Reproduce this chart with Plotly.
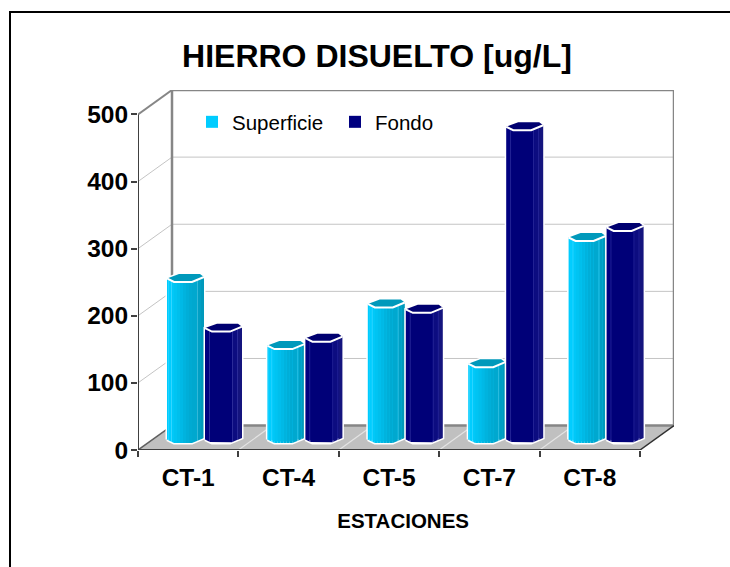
import plotly.graph_objects as go

categories = ["CT-1", "CT-4", "CT-5", "CT-7", "CT-8"]
superficie = [240, 140, 202, 113, 301]
fondo = [166, 151, 194, 466, 316]
y_ticks = [0, 100, 200, 300, 400, 500]

# scale of the plot: pixels per data unit, used only for the pseudo-3D styling
PXX = 100.4
PXY = 0.674
DX = 34 / PXX
DY = 24.5 / PXY
ux = lambda p: p / PXX
uy = lambda p: p / PXY

BASE = uy(7)
OFFS = {"c": 29, "n": 67}
OUTLINE = [(0, 3.5), (7, 0), (25, 0), (37, 5), (33, 8), (12, 8), (0, 3.5)]


def front(px):
    pts = [(0, 3.5), (7, 0), (25, 0), (37, 5)]
    for (a, b), (c, d) in zip(pts, pts[1:]):
        if a <= px <= c:
            return b + (d - b) * (px - a) / (c - a)
    return 0


CYAN_STRIPS = [
    (0, 1.5, "#00ccff"), (1.5, 4, "#00cdff"), (4, 5, "#33d6ff"), (5, 7, "#00c8f8"),
    (7, 10, "#00c4f2"), (10, 13, "#00bfec"), (13, 16, "#00b9e6"), (16, 19, "#00b3de"),
    (19, 22, "#00aed8"), (22, 25, "#00aad2"), (25, 30, "#00a8cf"), (30, 31, "#33b8d8"),
    (31, 34, "#009fc4"), (34, 37, "#0099bb"),
]
NAVY_STRIPS = [
    (0, 4, "#000080"), (4, 5, "#2a2a98"), (5, 27, "#000078"), (27, 28, "#2a2a98"),
    (28, 32, "#0c0c80"), (32, 33, "#2a2a98"), (33, 37, "#14147e"),
]


def xs(i, off, px):
    return i + ux(off + px)


def prism(values, off, strips, top_color, name, color):
    traces = []
    # real bar, the body of the column
    traces.append(go.Bar(
        x=[i + ux(off + 18.5) for i in range(5)], y=[v - uy(5) for v in values],
        base=[BASE + uy(5)] * 5, width=ux(37), name=name,
        marker=dict(color=color, line=dict(color="white", width=0)),
        hoverinfo="skip", customdata=categories,
    ))
    # white halo silhouette
    hx, hy = [], []
    for i, v in enumerate(values):
        sil = [(0, 3.5, 0), (7, 0, 0), (25, 0, 0), (37, 5, 0), (37, 5, 1), (33, 8, 1),
               (12, 8, 1), (0, 3.5, 1), (0, 3.5, 0)]
        hx += [xs(i, off, a) for a, _, _ in sil] + [None]
        hy += [BASE + uy(b) + (v if t else 0) for _, b, t in sil] + [None]
    traces.append(go.Scatter(x=hx, y=hy, mode="lines", fill="toself", fillcolor=color,
                             line=dict(color="white", width=3), showlegend=False, hoverinfo="skip"))
    # shaded vertical strips
    for a, b, col in strips:
        px, py = [], []
        for i, v in enumerate(values):
            fa, fb = front(a), front(b)
            px += [xs(i, off, a), xs(i, off, b), xs(i, off, b), xs(i, off, a), xs(i, off, a), None]
            py += [BASE + uy(fa), BASE + uy(fb), BASE + v + uy(fb), BASE + v + uy(fa), BASE + uy(fa), None]
        traces.append(go.Scatter(x=px, y=py, mode="lines", fill="toself", fillcolor=col,
                                 line=dict(width=0, color=col), showlegend=False, hoverinfo="skip"))
    # top cap
    tx, ty, ex, ey = [], [], [], []
    for i, v in enumerate(values):
        tx += [xs(i, off, a) for a, _ in OUTLINE] + [None]
        ty += [BASE + v + uy(b) for _, b in OUTLINE] + [None]
        ex += [xs(i, off, a) for a, _ in OUTLINE[:4]] + [None]
        ey += [BASE + v + uy(b) for _, b in OUTLINE[:4]] + [None]
    traces.append(go.Scatter(x=tx, y=ty, mode="lines", fill="toself", fillcolor=top_color,
                             line=dict(width=0, color=top_color), showlegend=False, hoverinfo="skip"))
    traces.append(go.Scatter(x=ex, y=ey, mode="lines", line=dict(color="white", width=2),
                             showlegend=False, hoverinfo="skip"))
    return traces


fig = go.Figure()
for t in prism(superficie, OFFS["c"], CYAN_STRIPS, "#0099bb", "Superficie", "#00ccff"):
    fig.add_trace(t)
for t in prism(fondo, OFFS["n"], NAVY_STRIPS, "#000070", "Fondo", "#000080"):
    fig.add_trace(t)

shapes = []
n = len(categories)
GRID = "#c4c4c4"
AX = "#404040"
WALL = "#868686"


def line(x0, y0, x1, y1, color, width, layer="below"):
    shapes.append(dict(type="line", x0=x0, y0=y0, x1=x1, y1=y1, xref="x", yref="y",
                       line=dict(color=color, width=width), layer=layer))


shapes.append(dict(type="path", xref="x", yref="y", layer="below",
                   path=f"M0,0 L{n},0 L{n+DX},{DY} L{DX},{DY} Z",
                   fillcolor="#c0c0c0", line=dict(width=0)))
for v in y_ticks[1:-1]:
    line(0, v, DX, v + DY, GRID, 1)
    line(DX, v + DY, n + DX, v + DY, GRID, 1)
for i in range(1, n):
    line(i, 0, i + DX, DY, "#e4e4e4", 1.2)
line(DX, DY, n + DX, DY, WALL, 2.5)
line(DX, DY, DX, 500 + DY, WALL, 2.5)
line(DX, 500 + DY, n + DX, 500 + DY, WALL, 2.5)
line(n + DX, DY, n + DX, 500 + DY, WALL, 2.5)
line(0, 500, DX, 500 + DY, WALL, 2)
line(0, 0, DX, DY, "#606060", 1.5)
line(n, 0, n + DX, DY, "#303030", 1.5)
line(0, 0, 0, 500, AX, 2)
line(0, 0, n, 0, AX, 2)
# outer frame of the page: its right and bottom edges fall outside the picture
shapes.append(dict(type="rect", xref="paper", yref="paper", layer="below",
                   x0=(10 - 138) / 536, x1=(760 - 138) / 536,
                   y0=(450 - 590) / 360, y1=(450 - 12) / 360,
                   line=dict(color="black", width=2)))

fig.update_layout(
    width=730, height=567, autosize=False,
    margin=dict(l=138, r=56, t=90, b=117),
    paper_bgcolor="white", plot_bgcolor="white",
    font=dict(family="Liberation Sans", color="black"),
    barmode="overlay", shapes=shapes,
    title=dict(text="<b>HIERRO DISUELTO [ug/L]</b>", font=dict(size=32),
               x=377 / 730, xanchor="center", y=1 - 56 / 567, yanchor="middle"),
    xaxis=dict(range=[0, n + DX], tickmode="array", tickvals=[i + 0.5 for i in range(n)],
               ticktext=[f"<b>{c}</b>" for c in categories], tickfont=dict(size=24.5),
               showgrid=False, zeroline=False, showline=False, ticks="", ticklen=0, fixedrange=True,
               ticklabelstandoff=10,
               minor=dict(tickmode="array", tickvals=list(range(n + 1)), ticks="outside",
                          ticklen=6, tickwidth=1.5, tickcolor=AX, showgrid=False),
               title=dict(text="<b>ESTACIONES</b>&nbsp;", font=dict(size=20.5), standoff=24)),
    yaxis=dict(range=[0, 500 + DY], tickmode="array", tickvals=y_ticks,
               ticktext=[f"<b>{v}</b>" for v in y_ticks], tickfont=dict(size=24.5),
               showgrid=False, zeroline=False, showline=False, ticks="outside", ticklen=6,
               ticklabelstandoff=-2, tickwidth=1.5, tickcolor=AX, fixedrange=True),
    legend=dict(orientation="h", x=(192 - 138) / 536, y=(450 - 102) / 360, xanchor="left", yanchor="top",
                bgcolor="rgba(0,0,0,0)", font=dict(size=20.5), itemclick=False, itemdoubleclick=False,
                entrywidth=98, entrywidthmode="pixels", traceorder="normal"),
    showlegend=True,
)
fig.write_html("out.html", config=dict(displayModeBar=False),
               post_script="document.body.style.margin='0';")
